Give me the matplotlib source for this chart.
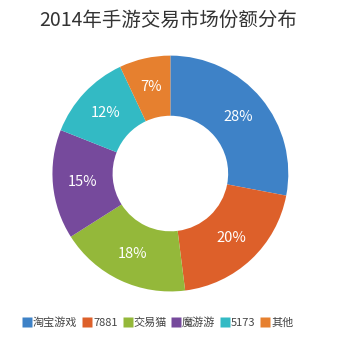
import matplotlib
matplotlib.use('Agg')
import matplotlib.pyplot as plt
from matplotlib.lines import Line2D

plt.rcParams['font.family'] = ['Noto Sans CJK SC', 'DejaVu Sans']

# market share data
labels = ['淘宝游戏', '7881', '交易猫', '魔游游', '5173', '其他']
shares = [28, 20, 18, 15, 12, 7]
colors = ['#3E82C7', '#DD602A', '#94B83A', '#764A9C', '#33BAC4', '#E6802F']

fig = plt.figure(figsize=(3.52, 3.38), dpi=100)
ax = fig.add_axes([0.149, 0.1376, 0.670, 0.698])

wedges, texts, autotexts = ax.pie(
    shares, colors=colors, startangle=90, counterclock=False,
    autopct='%d%%', pctdistance=0.75, radius=1.0,
    wedgeprops=dict(width=0.51, edgecolor='none'),
    textprops=dict(color='white', fontsize=10.5))
ax.set_xlim(-1, 1)
ax.set_ylim(-1, 1)
ax.set_aspect('equal')
ax.axis('off')

fig.text(0.478, 0.94, '2014年手游交易市场份额分布', ha='center', va='center',
         fontsize=14, color='#333333', fontweight='light')

handles = [Line2D([], [], marker='s', linestyle='none', markersize=6.5,
                  markerfacecolor=c, markeredgecolor='none') for c in colors]
fig.legend(handles, labels, loc='center', bbox_to_anchor=(0.45, 0.047),
           ncol=6, frameon=False, fontsize=8, handlelength=0.7,
           handletextpad=0.15, columnspacing=0.55, labelcolor='#444444')

fig.savefig('out.png', dpi=100)
